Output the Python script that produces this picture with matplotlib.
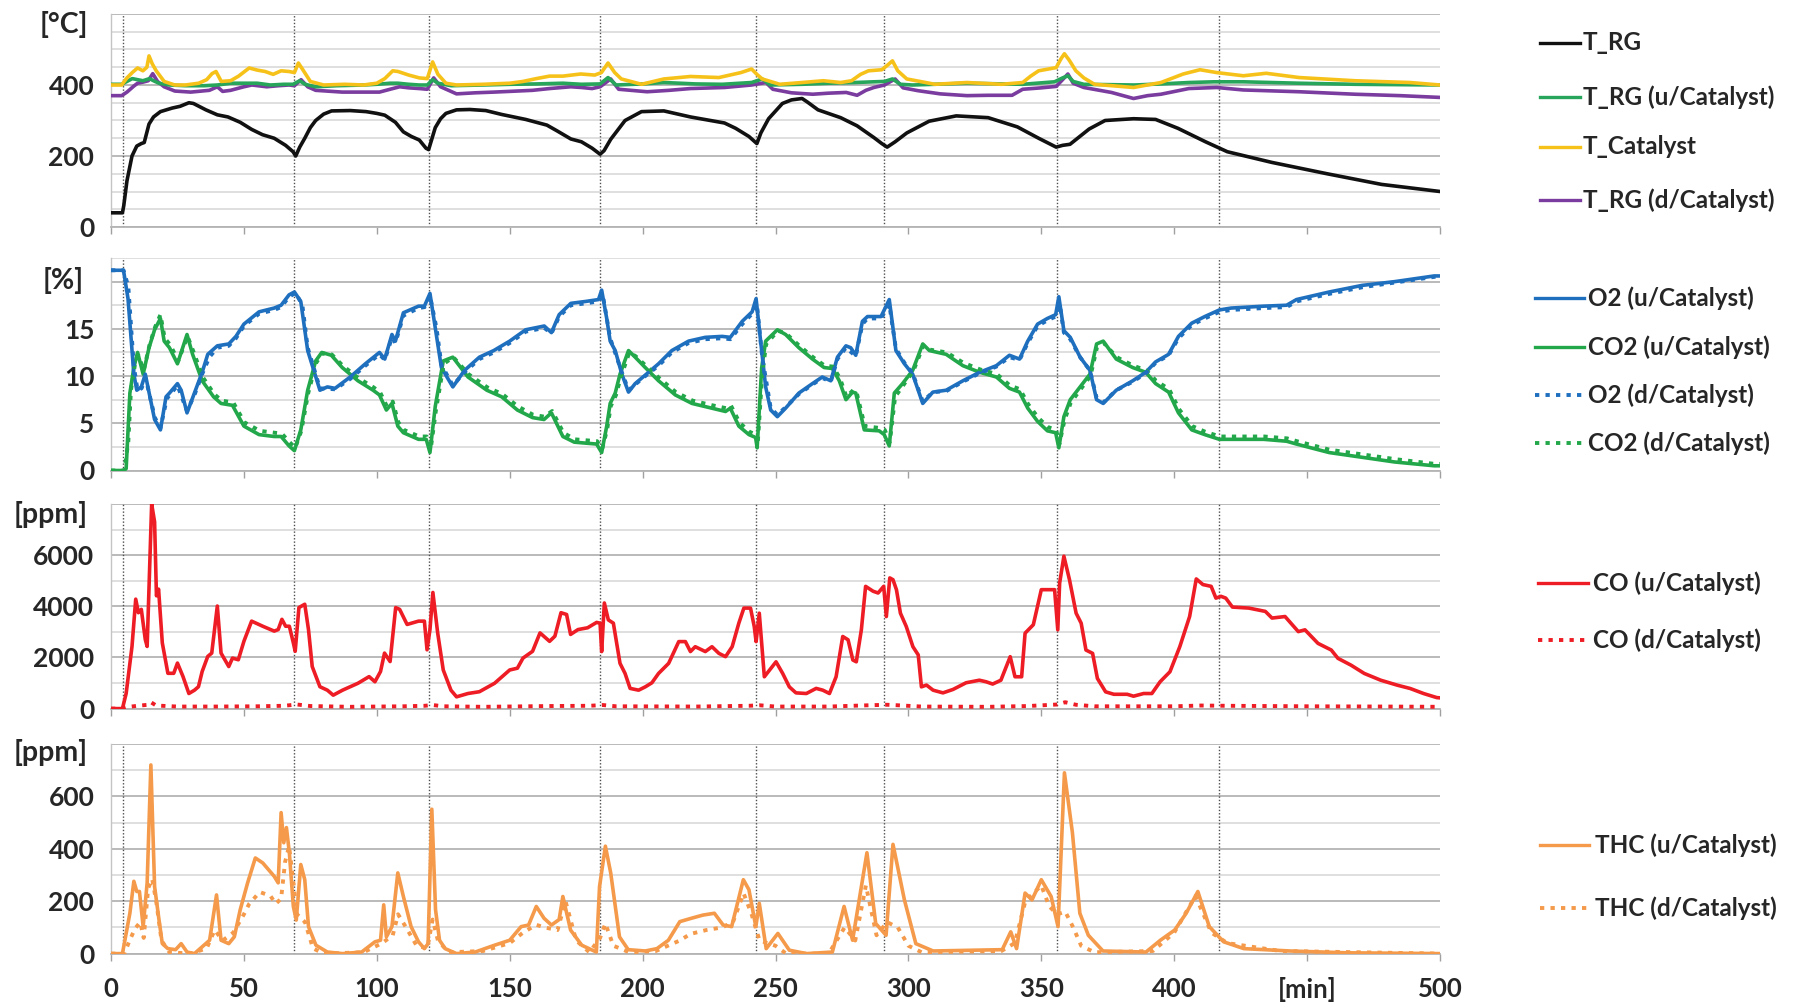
import matplotlib
matplotlib.use("Agg")
import matplotlib.pyplot as plt
from matplotlib.lines import Line2D

plt.rcParams['font.family'] = ['Lato', 'DejaVu Sans']
plt.rcParams['font.weight'] = 'bold'

# ---------------------------------------------------------------- data
# time [min], value pairs for every logged channel

t_rg = [(0, 40), (4.3, 40), (4.8, 60), (6, 130), (7.9, 200), (9.7, 228), (11.4, 235), (12.5, 238),
        (14.3, 290), (16, 310), (18.6, 325), (23, 335), (26, 340), (29.3, 350), (31, 348), (35.7, 330),
        (40, 316), (44, 310), (48.6, 295), (52.9, 275), (57, 260), (61.4, 250), (65.7, 230), (68.5, 212),
        (69.5, 200), (71, 225), (72.9, 250), (75, 280), (77, 300), (80, 318), (83, 327), (90, 328),
        (96, 325), (100, 320), (103, 315), (107, 295), (110, 268), (113, 255), (116, 245), (118.5, 222),
        (119.5, 218), (122, 280), (124, 305), (126, 320), (130, 330), (135, 331), (141, 328), (147, 317),
        (156, 303), (164, 287), (168, 270), (173, 248), (177, 240), (181, 222), (184, 205), (185.5, 215),
        (188, 247), (193.4, 300), (199.6, 325), (208, 327), (218, 310), (230.8, 293), (235, 278),
        (240, 255), (243, 235), (244.5, 265), (247.4, 305), (252.6, 348), (256, 358), (260, 362),
        (262, 352), (266, 330), (274.5, 308), (280.7, 285), (287, 252), (290, 235), (292, 225),
        (295, 240), (299.4, 265), (307.8, 298), (318, 313), (330, 308), (341, 282), (349, 250),
        (355.6, 225), (358, 230), (360.8, 233), (368, 276), (374, 300), (384.7, 305), (393, 303),
        (401.4, 278), (411.8, 240), (420, 212), (436.7, 182), (457.5, 150), (478, 120), (500, 100)]

t_rg_up = [(0, 402), (4, 402), (6, 410), (8, 418), (10, 415), (12, 412), (14.5, 418), (16, 412), (18, 405),
           (22, 400), (28, 398), (35, 398), (40, 400), (45, 405), (50, 405), (55, 405), (60, 400), (65, 402),
           (68.5, 402), (71, 412), (73, 402), (77, 395), (85, 398), (95, 400), (100, 402), (105, 405),
           (108, 405), (112, 402), (116, 400), (119, 400), (121, 415), (123, 405), (128, 398), (140, 400),
           (150, 402), (160, 403), (170, 405), (177, 402), (184, 403), (187, 421), (190, 400), (200, 403),
           (208, 407), (220, 403), (230, 402), (241, 407), (245, 417), (248, 400), (260, 402), (270, 405),
           (280, 407), (287, 409), (291, 410), (294, 417), (297, 402), (301.5, 400), (322, 405), (343, 402),
           (355, 409), (358, 420), (360, 426), (362, 410), (366, 402), (385, 400), (395, 403), (405.5, 407),
           (415, 409), (426, 409), (447, 405), (468, 402), (500, 400)]

t_catalyst = [(0, 400), (4, 400), (6, 420), (8, 435), (10, 448), (12, 440), (13.5, 450), (14.3, 482),
              (15.5, 460), (17, 440), (20, 410), (24, 400), (28, 400), (33, 405), (36, 415), (38, 432),
              (39.5, 438), (41.5, 410), (45, 412), (48, 425), (52, 448), (55, 442), (58, 438), (61, 430),
              (64, 440), (67, 438), (69, 435), (70.5, 462), (72, 445), (75, 410), (80, 400), (88, 402),
              (95, 400), (100, 405), (103, 418), (106, 440), (108, 438), (112, 428), (116, 420), (119, 418),
              (121, 465), (123, 430), (126, 405), (130, 400), (140, 402), (150, 405), (155, 410), (160, 418),
              (165, 425), (170, 425), (176.7, 431), (182, 428), (184.5, 435), (187, 462), (189.5, 435),
              (192, 417), (199.6, 402), (208, 417), (218, 424), (228.7, 421), (237, 435), (241, 445),
              (243, 430), (245, 417), (251.6, 402), (260, 407), (268, 412), (274.5, 407), (278.6, 412),
              (282, 430), (285, 440), (290, 443), (292, 455), (294, 468), (296, 440), (299.4, 417),
              (310, 402), (322, 407), (335, 402), (343, 407), (346, 425), (349, 440), (355.6, 449),
              (357.5, 475), (358.7, 488), (360.5, 470), (363, 440), (366, 420), (370, 402), (384.7, 393),
              (395, 407), (403.4, 431), (409.7, 443), (416, 435), (426, 426), (434.6, 433), (447, 421),
              (468, 412), (488.7, 407), (500, 400)]

t_rg_down = [(0, 370), (4, 370), (6, 380), (8.6, 397), (10, 405), (12, 408), (14, 412), (15.7, 432),
             (17.5, 410), (20, 395), (24, 383), (30, 380), (37, 385), (40, 395), (42, 382), (45, 385),
             (50, 395), (53, 400), (58.6, 395), (63, 398), (67, 400), (69, 398), (71.5, 415), (74, 395),
             (77, 385), (87, 380), (95, 380), (101, 380), (105, 388), (108.6, 395), (112, 392), (116, 390),
             (119, 388), (121.4, 420), (124, 395), (130, 375), (137, 378), (144, 380), (150, 382),
             (158.6, 385), (165, 390), (173, 395), (177, 393), (181, 390), (184, 395), (188, 417), (191, 388),
             (201.7, 381), (210, 385), (218, 390), (230.8, 393), (241, 400), (246.4, 407), (249, 388),
             (256, 378), (264, 374), (270, 377), (276.6, 379), (280.7, 371), (284, 385), (287, 393),
             (291, 400), (295, 417), (298, 392), (303.6, 384), (312, 375), (322, 370), (330, 371), (339, 371),
             (343, 388), (350, 392), (355.6, 396), (358, 415), (360, 431), (362, 405), (366, 393),
             (376.4, 379), (384.7, 362), (390, 370), (395, 374), (405.5, 390), (416, 393), (426, 386),
             (447, 381), (468, 374), (485, 370), (500, 365)]

o2_up = [(0, 21.2), (4.7, 21.2), (6.4, 18.2), (8.6, 10.2), (9.7, 8.5), (11.4, 8.85), (12.9, 10.2), (16.4, 5.4),
         (18.6, 4.3), (20.7, 7.8), (22, 8.2), (25, 9.2), (26.4, 8.5), (28.6, 6.1), (31.4, 8.2), (34.3, 10.4),
         (36.4, 12.3), (40, 13.2), (44.3, 13.4), (47, 14.2), (50, 15.5), (55.7, 16.8), (61.4, 17.2), (64, 17.5),
         (67, 18.6), (69, 18.9), (71.4, 17.9), (74, 12.7), (78.6, 8.5), (81.4, 8.85), (84.3, 8.7), (90, 9.9),
         (95.7, 11.3), (101, 12.5), (103, 11.8), (105.7, 14.4), (107, 13.7), (110, 16.7), (115.7, 17.4),
         (117.9, 17.4), (120, 18.75), (122, 15.1), (124.3, 10.9), (128.6, 8.85), (133, 10.6), (138.6, 12.0),
         (144, 12.7), (150, 13.7), (156, 14.9), (163, 15.3), (165.7, 14.6), (168.6, 16.5), (173, 17.7),
         (178.6, 17.9), (183.4, 18.1), (184.6, 19.1), (186.5, 16.1), (187.8, 13.7), (189.7, 12.7), (192.2, 10.2),
         (194.7, 8.3), (197.2, 9.2), (201, 10.1), (206, 11.3), (211, 12.7), (217.3, 13.7), (223.6, 14.1),
         (229.9, 14.2), (233, 14.1), (237.5, 15.8), (241.2, 16.8), (242.7, 18.2), (244.4, 13.7), (246.3, 8.85),
         (248.2, 6.4), (250.7, 5.7), (253.8, 6.6), (258.8, 8.2), (263.9, 9.2), (267.6, 9.9), (270.8, 9.5),
         (273.3, 12.0), (276.5, 13.2), (278.3, 13.0), (280.2, 12.2), (282.7, 15.8), (284.6, 16.3), (289.7, 16.3),
         (292.8, 18.1), (295.3, 12.7), (298.5, 11.3), (301.6, 10.2), (305.4, 7.1), (309.2, 8.3), (314.2, 8.5),
         (320.5, 9.5), (326.8, 10.4), (333.1, 11.1), (338, 12.2), (341.8, 11.8), (344.9, 13.7), (348.6, 15.5),
         (352.3, 16.1), (355.4, 16.5), (356.6, 18.4), (358.5, 14.8), (360.9, 14.1), (364.6, 12.0), (368.3, 10.6),
         (370.8, 7.5), (373.3, 7.1), (378.2, 8.5), (384.4, 9.5), (389.3, 10.4), (393, 11.5), (397.9, 12.3),
         (401.6, 14.2), (406.6, 15.6), (411.5, 16.3), (417, 17.0), (421.4, 17.2), (433.7, 17.4), (442.3, 17.5),
         (446, 18.1), (458.3, 18.9), (470.7, 19.6), (483, 20.0), (497.8, 20.6), (500, 20.6)]

co2_up = [(0, 0), (4.7, 0), (5.7, 0.2), (7.1, 8.2), (8.6, 10.9), (10, 12.5), (12.1, 10.2), (14.3, 13.0),
          (16.4, 14.9), (18.6, 16.1), (20, 13.7), (22, 13.0), (25, 11.3), (28.6, 14.4), (30.7, 12.3), (34.3, 9.5),
          (38.6, 7.8), (41.4, 7.1), (45.7, 6.9), (50, 4.7), (55.7, 3.8), (61.4, 3.6), (64, 3.6), (67, 2.6),
          (69, 2.1), (71.4, 4.3), (74, 8.5), (77, 11.6), (79.3, 12.5), (82.9, 12.2), (87, 10.9), (92.9, 9.5),
          (98.6, 8.5), (101, 8.0), (103.6, 6.4), (105.7, 7.1), (107.9, 4.7), (110, 4.0), (115.7, 3.3),
          (118.6, 3.3), (120, 1.9), (122, 6.8), (125, 11.6), (128.6, 12.0), (134.3, 9.9), (141.4, 8.5),
          (147, 7.8), (152.9, 6.4), (158.6, 5.6), (162.9, 5.4), (165.7, 6.1), (170, 3.6), (174.3, 3.0),
          (182.7, 2.8), (184.6, 1.9), (186.5, 4.7), (187.8, 7.1), (189.7, 8.2), (191.5, 10.2), (194.7, 12.7),
          (197.2, 12.0), (201, 10.9), (206, 9.5), (212.3, 8.0), (218.6, 7.1), (226.1, 6.6), (231.2, 6.25),
          (233, 6.6), (236.2, 4.7), (240, 3.8), (242.5, 3.5), (243.1, 2.4), (244.8, 10.9), (246.3, 13.7),
          (250.7, 14.9), (253.8, 14.4), (258.8, 13.0), (263.9, 11.8), (268.3, 10.9), (271.4, 10.8), (274, 9.5),
          (276.5, 7.5), (279, 8.3), (280.2, 8.2), (283.4, 4.3), (289, 4.2), (290.9, 3.8), (292.8, 2.6),
          (294.7, 8.2), (297.8, 9.2), (301.6, 10.6), (305.4, 13.4), (307.9, 12.7), (314.2, 12.3), (320.5, 11.1),
          (326.8, 10.4), (333.1, 9.9), (338, 8.7), (341.8, 8.3), (344.9, 6.6), (348.6, 5.2), (352.3, 4.2),
          (355.4, 4.0), (356.6, 2.4), (358.5, 5.7), (360.9, 7.5), (364.6, 8.85), (368.3, 10.2), (370.8, 13.4),
          (373.3, 13.7), (378.2, 11.8), (384.4, 10.9), (389.3, 10.4), (393, 9.2), (397.9, 8.3), (401.6, 6.1),
          (406.6, 4.3), (411.5, 3.8), (417, 3.3), (421.4, 3.3), (433.7, 3.3), (442.3, 3.1), (446, 2.8),
          (458.3, 1.9), (470.7, 1.4), (483, 0.9), (497.8, 0.5), (500, 0.5)]

o2_down = [(0, 21.2), (4.7, 21.2), (6.5, 19.5), (8.6, 11.0), (10, 8.5), (11.5, 8.7), (13, 9.8), (16.5, 5.6),
           (18.6, 4.5), (21, 7.6), (25, 9.0), (28.6, 6.3), (31.4, 8.0), (34.3, 10.2), (37, 12.0), (40, 13.0),
           (44.3, 13.2), (47, 14.0), (50, 15.3), (55.7, 16.6), (61.4, 17.0), (64, 17.3), (67, 18.4), (69.5, 18.8),
           (72, 17.5), (74, 13.0), (78.6, 8.7), (84.3, 8.6), (90, 9.7), (95.7, 11.1), (101, 12.3), (103, 11.7),
           (105.7, 14.1), (107, 13.5), (110, 16.4), (115.7, 17.2), (118, 17.3), (120, 18.5), (122.5, 15.0),
           (124.3, 11.2), (128.6, 9.0), (133, 10.4), (138.6, 11.8), (144, 12.5), (150, 13.5), (156, 14.7),
           (163, 15.1), (165.7, 14.5), (168.6, 16.3), (173, 17.5), (178.6, 17.7), (183.4, 17.9), (185, 18.6),
           (187.8, 14.0), (192.2, 10.4), (194.7, 8.5), (197.2, 9.1), (201, 10.0), (206, 11.1), (211, 12.5),
           (217.3, 13.5), (223.6, 13.9), (229.9, 14.0), (233, 13.9), (237.5, 15.5), (241.2, 16.6), (243, 17.6),
           (245, 12.0), (248.2, 6.6), (250.7, 5.9), (253.8, 6.7), (258.8, 8.1), (263.9, 9.1), (267.6, 9.8),
           (270.8, 9.4), (273.3, 11.8), (276.5, 13.0), (280.2, 12.1), (282.7, 15.5), (284.6, 16.1), (289.7, 16.1),
           (292.8, 17.6), (295.3, 12.9), (298.5, 11.4), (301.6, 10.3), (305.4, 7.3), (309.2, 8.3), (314.2, 8.4),
           (320.5, 9.4), (326.8, 10.3), (333.1, 11.0), (338, 12.0), (341.8, 11.7), (344.9, 13.5), (348.6, 15.3),
           (352.3, 15.9), (355.4, 16.3), (357, 17.5), (358.5, 14.6), (360.9, 13.9), (364.6, 12.0), (368.3, 10.6),
           (370.8, 7.7), (373.3, 7.2), (378.2, 8.5), (384.4, 9.4), (389.3, 10.3), (393, 11.4), (397.9, 12.2),
           (401.6, 14.0), (406.6, 15.4), (411.5, 16.1), (417, 16.8), (421.4, 17.0), (433.7, 17.2), (442.3, 17.3),
           (446, 17.9), (458.3, 18.7), (470.7, 19.4), (483, 19.9), (497.8, 20.5), (500, 20.5)]

co2_down = [(0, 0), (5, 0), (6.5, 3.0), (7.5, 8.5), (9, 11.2), (10.3, 12.2), (12.3, 10.6), (14.5, 13.3),
            (16.6, 15.2), (18.6, 16.5), (20.2, 14.0), (22.3, 13.3), (25.3, 11.6), (28.8, 14.2), (31, 12.6),
            (34.5, 9.9), (38.8, 8.1), (41.6, 7.4), (46, 7.2), (50.2, 5.1), (56, 4.2), (61.6, 4.0), (64.3, 3.9),
            (67.2, 3.0), (69.3, 2.4), (71.6, 4.2), (74.2, 8.2), (77.2, 11.4), (79.5, 12.4), (83, 12.3),
            (87.2, 11.1), (93, 9.8), (98.8, 8.8), (101.2, 8.3), (103.8, 6.8), (106, 7.3), (108.1, 5.1),
            (110.2, 4.3), (116, 3.6), (118.8, 3.6), (120.3, 2.3), (122.2, 6.3), (125.2, 11.3), (128.8, 12.0),
            (134.5, 10.2), (141.6, 8.8), (147.2, 8.1), (153, 6.8), (158.8, 5.9), (163, 5.7), (166, 6.3),
            (170.2, 4.0), (174.5, 3.3), (182.9, 3.1), (184.8, 2.3), (186.7, 4.4), (188, 6.8), (190, 8.0),
            (191.7, 9.8), (195, 12.5), (197.4, 12.1), (201.2, 11.1), (206.2, 9.8), (212.5, 8.3), (218.8, 7.4),
            (226.3, 6.9), (231.4, 6.6), (233.2, 6.9), (236.4, 5.1), (240.2, 4.1), (242.7, 3.8), (243.3, 2.8),
            (245, 10.2), (246.5, 13.4), (250.9, 14.8), (254, 14.5), (259, 13.2), (264.1, 12.0), (268.5, 11.1),
            (271.6, 11.0), (274.2, 9.8), (276.7, 7.8), (279.2, 8.5), (280.4, 8.4), (283.6, 4.7), (289.2, 4.5),
            (291.1, 4.3), (293, 3.0), (295, 7.8), (298, 9.0), (301.8, 10.5), (305.6, 13.2), (308.1, 12.8),
            (314.4, 12.5), (320.7, 11.4), (327, 10.7), (333.3, 10.2), (338.2, 9.0), (342, 8.6), (345.1, 7.0),
            (348.8, 5.6), (352.5, 4.6), (355.6, 4.3), (356.8, 2.8), (358.7, 5.3), (361.1, 7.2), (364.8, 8.6),
            (368.5, 10.0), (371, 13.1), (373.5, 13.5), (378.4, 12.0), (384.6, 11.1), (389.5, 10.6), (393.2, 9.5),
            (398.1, 8.6), (401.8, 6.5), (406.8, 4.7), (411.7, 4.1), (417.2, 3.6), (421.6, 3.6), (433.9, 3.6),
            (442.5, 3.4), (446.2, 3.1), (458.5, 2.2), (470.9, 1.7), (483.2, 1.2), (498, 0.7), (500, 0.7)]

co_up = [(0, 0), (4.3, 0), (5.7, 590), (7.9, 2430), (9.3, 4280), (10.3, 3750), (11.4, 3880), (12.9, 2700),
         (13.6, 2430), (14.6, 5720), (15.3, 8000), (16.4, 7300), (17.1, 4410), (17.9, 4670), (19.3, 2570),
         (21.4, 1380), (23.6, 1380), (25, 1780), (27.1, 1250), (29.3, 590), (31.4, 720), (32.9, 855),
         (34.3, 1450), (36.4, 2040), (37.9, 2170), (40, 4010), (41.4, 2170), (44.3, 1645), (45.7, 1975),
         (47.9, 1910), (50, 2630), (52.9, 3420), (57.1, 3220), (61.4, 3030), (62.9, 3090), (64.3, 3490),
         (65.7, 3220), (67.1, 3220), (68.6, 2570), (69.3, 2240), (70.7, 3950), (72.9, 4080), (74.3, 3090),
         (75.7, 1645), (78.6, 855), (81.4, 720), (83.6, 525), (87.1, 720), (92.9, 990), (97.1, 1250),
         (99.3, 1050), (101.4, 1450), (102.9, 2170), (105, 1840), (107.1, 3950), (108.6, 3880), (111.4, 3290),
         (115.7, 3420), (117.9, 3420), (118.9, 2300), (120, 3090), (121.1, 4540), (122.9, 2960), (125, 1510),
         (127.9, 720), (130, 460), (134.3, 590), (138.6, 660), (144.3, 990), (150, 1510), (152.9, 1580),
         (155, 1975), (158.6, 2240), (161.4, 2960), (165, 2630), (167, 2830), (169.3, 3750), (171.4, 3680),
         (172.9, 2900), (175.7, 3090), (179.3, 3160), (182.7, 3370), (184, 3340), (184.6, 2230), (185.6, 4130),
         (187.1, 3470), (189, 3340), (191.5, 1770), (193.4, 1375), (195.3, 790), (198.5, 720), (201, 850),
         (203.5, 1010), (206, 1375), (209.8, 1770), (213.6, 2620), (216.1, 2620), (218, 2230), (219.8, 2420),
         (223.6, 2230), (226.1, 2420), (228.7, 2160), (231.2, 2030), (233.7, 2420), (236.2, 3340),
         (238.1, 3930), (240.6, 3930), (242, 3210), (242.7, 2620), (243.9, 3730), (245.8, 1245), (247.7, 1500),
         (250.2, 1830), (252.7, 1375), (255.2, 850), (257.7, 615), (261.6, 590), (265.3, 790), (267.8, 720),
         (270.3, 590), (272.8, 1245), (275.3, 2820), (277.3, 2690), (279.1, 1900), (280.4, 1830), (282.3, 3080),
         (283.9, 4780), (286.7, 4590), (288.6, 4520), (290.7, 4780), (291.7, 3600), (293, 5110), (294.2, 5040),
         (295.5, 4650), (297, 3730), (299.2, 3210), (301.7, 2420), (303.7, 2100), (304.9, 850), (306.8, 920),
         (309.3, 720), (313, 615), (316.8, 750), (321.7, 1010), (326.7, 1110), (329.2, 1050), (331.7, 960),
         (334.8, 1110), (338.3, 2030), (340.1, 1245), (342.6, 1245), (343.9, 2950), (347, 3280), (350, 4650),
         (355, 4650), (356.2, 3080), (356.9, 4910), (358.5, 5960), (360.6, 5040), (363.1, 3730), (365, 3340),
         (366.8, 2290), (369.3, 2160), (371.1, 1180), (374.2, 655), (377.3, 560), (382.3, 560), (384.7, 485),
         (388.5, 590), (391.6, 590), (394.7, 1050), (398.4, 1440), (402.1, 2420), (405.8, 3600), (408.3, 5070),
         (410.8, 4850), (413.9, 4780), (415.7, 4320), (417.6, 4390), (419.4, 4320), (421.9, 3970),
         (428.1, 3930), (434.3, 3800), (436.8, 3540), (441.7, 3600), (446.7, 3010), (449.2, 3080),
         (454.1, 2550), (459.1, 2290), (461.6, 1965), (466.5, 1700), (471.5, 1375), (477.7, 1110),
         (483.9, 917), (488.8, 786), (493.8, 590), (498.8, 430), (500, 420)]

co_down = [(0, 0), (4, 0), (6, 60), (10, 110), (14, 150), (15, 250), (17, 120), (25, 80), (40, 80), (55, 90),
           (65, 110), (70, 160), (75, 100), (90, 70), (110, 90), (118, 110), (121, 140), (125, 90), (140, 70),
           (165, 100), (180, 110), (185, 140), (190, 90), (220, 80), (240, 110), (244, 130), (250, 80),
           (270, 80), (285, 130), (292, 150), (296, 130), (305, 80), (330, 70), (345, 100), (356, 160),
           (359, 250), (363, 150), (370, 90), (400, 90), (410, 120), (420, 110), (450, 90), (480, 80), (500, 70)]

thc_up = [(0, 0), (4.3, 0), (5, 38), (7.1, 154), (8.6, 276), (9.7, 237), (10.7, 237), (12.1, 103), (13.6, 270),
          (15, 720), (16.4, 256), (17.9, 141), (19.3, 38), (21.4, 19), (24.3, 15), (26.4, 38), (28.6, 6),
          (31.4, 0), (34.3, 26), (37.1, 51), (39.7, 224), (41.4, 51), (44.3, 38), (46.4, 64), (48.6, 167),
          (51.4, 270), (54.3, 365), (57.1, 346), (61.4, 295), (62.9, 270), (64, 538), (65, 423), (66, 481),
          (67.1, 385), (68.6, 180), (69.7, 128), (71.4, 340), (72.9, 282), (74.3, 103), (77.1, 32), (81.4, 6),
          (87.1, 0), (94.3, 6), (99.3, 45), (101.4, 51), (102.6, 186), (103.6, 64), (105.7, 103), (107.9, 308),
          (110, 218), (112.9, 103), (115.7, 45), (117.9, 19), (119.3, 38), (120.7, 551), (122.1, 167),
          (123.6, 51), (125.7, 19), (130, 0), (137, 6), (144.3, 32), (150, 51), (154.3, 103), (157.1, 109),
          (160, 180), (162.9, 135), (165.7, 109), (168.6, 130), (170, 218), (172.9, 90), (177.1, 32),
          (182.6, 6), (183.8, 256), (186, 410), (188, 308), (191.3, 64), (194.6, 15), (201, 10), (205.4, 19),
          (209.7, 51), (214, 122), (218.4, 135), (222.7, 147), (227, 154), (230.3, 109), (233.5, 103),
          (237.9, 282), (240, 244), (242.6, 103), (243.9, 192), (246.5, 19), (250.9, 77), (255.2, 13),
          (261.7, 0), (271.4, 6), (275.8, 180), (279, 51), (284.4, 385), (287.7, 115), (291.6, 70),
          (294.2, 417), (298.5, 205), (302.8, 38), (309.3, 10), (324.5, 13), (335.3, 15), (338.5, 83),
          (340.7, 19), (343.9, 231), (346.5, 205), (350, 282), (353.7, 218), (356.3, 103), (358.7, 690),
          (361.7, 462), (364.5, 154), (367.7, 70), (373.2, 10), (389.4, 6), (394.8, 51), (400.2, 90),
          (404.5, 154), (408.9, 237), (413.2, 103), (418.6, 45), (426.2, 19), (443.5, 10), (465.2, 3), (500, 0)]

thc_down = [(0, 0), (5, 0), (7, 50), (9, 95), (11, 120), (12.3, 60), (14, 250), (15.5, 285), (17, 200),
            (19, 50), (22, 5), (30, 0), (36, 20), (39, 90), (42, 50), (46, 80), (50, 150), (52, 190), (56, 235),
            (60, 220), (62, 190), (64, 210), (65.5, 350), (67, 410), (68.5, 280), (70, 150), (73, 120), (76, 20),
            (80, 0), (95, 5), (102, 40), (106, 70), (108, 150), (111, 100), (115, 30), (119, 20), (121, 130),
            (123, 50), (127, 5), (140, 10), (150, 40), (155, 80), (160, 110), (163, 100), (168, 90), (171, 200),
            (175, 50), (180, 5), (184, 60), (186, 115), (189, 30), (195, 5), (205, 10), (214, 50), (218, 75),
            (224, 90), (230, 100), (234, 120), (238, 230), (241, 150), (244, 50), (250, 30), (254, 0), (270, 0),
            (276, 100), (280, 50), (284, 260), (288, 70), (292, 120), (296, 100), (300, 30), (305, 5), (335, 10),
            (340, 40), (344, 200), (350, 260), (353, 180), (356, 150), (359, 160), (362, 100), (365, 30),
            (370, 5), (392, 10), (400, 80), (408, 220), (414, 80), (420, 40), (440, 10), (500, 0)]

# operating-phase boundaries [min]
phase_marks = [4.5, 69, 119.5, 184, 242.5, 291, 356, 417]

# x-axis tick labels (the slot of 450 carries the unit)
x_ticks = [0, 50, 100, 150, 200, 250, 300, 350, 400, 450, 500]
x_tick_labels = ['0', '50', '100', '150', '200', '250', '300', '350', '400', '[min]', '500']

# ---------------------------------------------------------------- styling
C_BLACK = '#111111'
C_GREEN_T = '#27a55a'
C_YELLOW = '#f6c21a'
C_PURPLE = '#7a3c9e'
C_BLUE = '#1f6fbf'
C_GREEN = '#22a84a'
C_RED = '#ee1c24'
C_ORANGE = '#f49a4a'
TXT = '#262626'

LW = 2.6
DOT = dict(lw=2.8, ls=(0, (1.1, 1.6)), dash_capstyle='butt')

W, H = 1795, 1008
fig = plt.figure(figsize=(W / 100, H / 100), dpi=100)
fig.patch.set_facecolor('white')

X0, X1 = 111, 1440


def add_panel(top_px, bottom_px):
    return fig.add_axes([X0 / W, 1 - bottom_px / H, (X1 - X0) / W, (bottom_px - top_px) / H])


def split(series):
    return [p[0] for p in series], [p[1] for p in series]


def style(ax, ymax, major, minor, labels, show_x):
    ax.set_xlim(0, 500)
    ax.set_ylim(0, ymax)
    majors = [i * major for i in range(int(round(ymax / major)) + 1)]
    minors = [i * minor for i in range(int(round(ymax / minor)) + 1)]
    ax.set_yticks(majors)
    ax.set_yticklabels(labels + [''] * (len(majors) - len(labels)))
    ax.set_yticks(minors, minor=True)
    ax.grid(axis='y', which='major', color='#b4b4b4', lw=1.3, zorder=0)
    ax.grid(axis='y', which='minor', color='#d6d6d6', lw=1.1, zorder=0)
    ax.set_axisbelow(True)
    ax.set_xticks(x_ticks)
    if show_x:
        ax.set_xticklabels(x_tick_labels)
    else:
        ax.set_xticklabels([])
    ax.tick_params(axis='y', which='both', length=0, pad=12, labelsize=19, labelcolor=TXT)
    ax.tick_params(axis='x', which='major', length=5, width=1, color='#a0a0a0', direction='out',
                   pad=12, labelsize=18.5, labelcolor=TXT)
    for s in ('top', 'right'):
        ax.spines[s].set_visible(False)
    ax.spines['left'].set_color('#c4c4c4')
    ax.spines['left'].set_linewidth(1.0)
    ax.spines['bottom'].set_color('#b4b4b4')
    ax.spines['bottom'].set_linewidth(1.3)
    for x in phase_marks:
        ax.axvline(x, color='#4d4d4d', lw=1.0, ls=(0, (1, 1.4)), zorder=1)
    ax.set_facecolor('none')


# ---- temperatures
ax1 = add_panel(14, 227)
style(ax1, 600, 200, 50, ['0', '200', '400'], False)
for data, col in ((t_rg_down, C_PURPLE), (t_rg_up, C_GREEN_T), (t_catalyst, C_YELLOW), (t_rg, C_BLACK)):
    ax1.plot(*split(data), color=col, lw=LW, zorder=3, solid_joinstyle='round')

# ---- O2 / CO2
ax2 = add_panel(258, 470.5)
style(ax2, 22.5, 5, 2.5, ['0', '5', '10', '15'], False)
ax2.plot(*split(co2_up), color=C_GREEN, lw=LW, zorder=3)
ax2.plot(*split(o2_up), color=C_BLUE, lw=LW, zorder=3)
ax2.plot(*split(co2_down), color=C_GREEN, zorder=4, **DOT)
ax2.plot(*split(o2_down), color=C_BLUE, zorder=4, **DOT)

# ---- CO
ax3 = add_panel(504, 708.6)
style(ax3, 8000, 2000, 1000, ['0', '2000', '4000', '6000'], False)
ax3.plot(*split(co_up), color=C_RED, lw=LW, zorder=3)
ax3.plot(*split(co_down), color=C_RED, zorder=4, **DOT)

# ---- THC
ax4 = add_panel(744, 953.6)
style(ax4, 800, 200, 100, ['0', '200', '400', '600'], True)
ax4.plot(*split(thc_up), color=C_ORANGE, lw=LW, zorder=3)
ax4.plot(*split(thc_down), color=C_ORANGE, zorder=4, **DOT)

# ---- unit labels on the value axes
for label, (px, py) in (('[°C]', (64, 24)), ('[%]', (63, 280)), ('[ppm]', (51, 514)), ('[ppm]', (51, 752))):
    fig.text(px / W, 1 - py / H, label, ha='center', va='center', fontsize=20.5, color=TXT,
             fontweight='bold')

# ---- legends
legend_rows = [
    ('T_RG', C_BLACK, '-', 1540, 1580, 1583, 43),
    ('T_RG (u/Catalyst)', C_GREEN_T, '-', 1540, 1580, 1583, 97),
    ('T_Catalyst', C_YELLOW, '-', 1540, 1580, 1583, 147),
    ('T_RG (d/Catalyst)', C_PURPLE, '-', 1540, 1580, 1583, 200),
    ('O2 (u/Catalyst)', C_BLUE, '-', 1535, 1584, 1588, 298),
    ('CO2 (u/Catalyst)', C_GREEN, '-', 1535, 1584, 1588, 347),
    ('O2 (d/Catalyst)', C_BLUE, ':', 1535, 1584, 1588, 395),
    ('CO2 (d/Catalyst)', C_GREEN, ':', 1535, 1584, 1588, 443),
    ('CO (u/Catalyst)', C_RED, '-', 1538, 1588, 1593, 583),
    ('CO (d/Catalyst)', C_RED, ':', 1538, 1588, 1593, 640),
    ('THC (u/Catalyst)', C_ORANGE, '-', 1540, 1589, 1595, 845),
    ('THC (d/Catalyst)', C_ORANGE, ':', 1540, 1589, 1595, 908),
]
for text, col, style_key, xa, xb, xt, yy in legend_rows:
    kw = dict(lw=2.4) if style_key == '-' else DOT
    fig.add_artist(Line2D([xa / W, xb / W], [1 - yy / H, 1 - yy / H], transform=fig.transFigure,
                          color=col, **kw))
    fig.text(xt / W, 1 - yy / H, text, ha='left', va='center', fontsize=17.5, color=TXT,
             fontweight='bold')

fig.savefig('out.png', dpi=100, facecolor='white')
